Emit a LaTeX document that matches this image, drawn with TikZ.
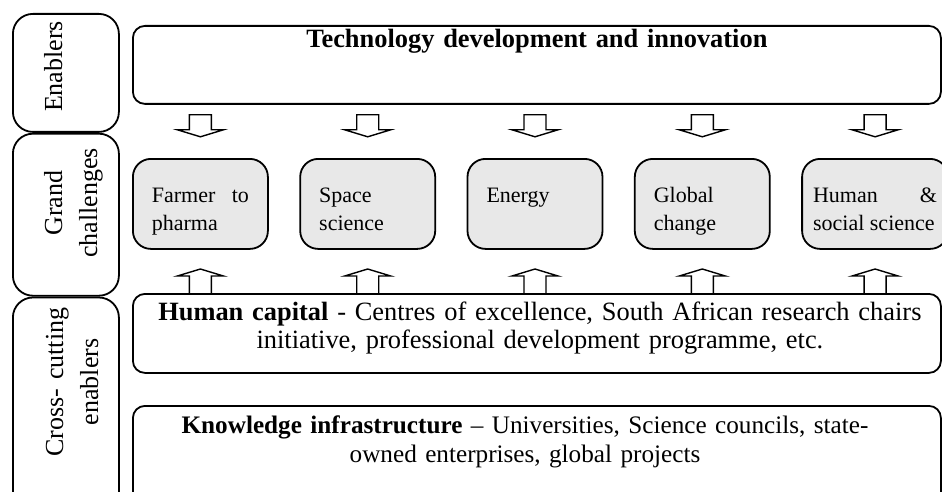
\documentclass[tikz,border=0pt]{standalone}
\usepackage{fontspec}
\setmainfont{Liberation Serif}
\usetikzlibrary{positioning, calc}

\definecolor{boxgray}{HTML}{E8E8E8}

\tikzset{
  bar/.style       = {rectangle, rounded corners=6pt, draw, line width=0.9pt,
                      inner sep=0pt, minimum width=404pt, anchor=north west},
  bartext/.style   = {text width=400pt, align=center, anchor=base, inner sep=0pt,
                      font=\fontsize{13.2}{14}\selectfont},
  sidebox/.style   = {rectangle, rounded corners=10pt, draw, line width=0.9pt,
                      inner sep=0pt, minimum width=53pt},
  sidetext/.style  = {rotate=90, text width=120pt, align=center, anchor=base,
                      inner sep=0pt, font=\fontsize{13}{17.5}\selectfont},
  challenge/.style = {rectangle, rounded corners=9pt, draw, line width=0.9pt,
                      fill=boxgray, minimum width=67.5pt, minimum height=45pt,
                      text width=48.5pt, inner xsep=9.5pt, inner ysep=9pt,
                      text height=13pt, text depth=14pt, align=justify,
                      font=\fontsize{11}{14}\selectfont,
                      execute at begin node={\hyphenpenalty=10000 }},
  blockarrow/.style = {draw, line width=0.7pt},
  downarr/.pic = {\draw[blockarrow] (-11,0) -- (11,0) -- (11,15) -- (23,15)
                    -- (0,22) -- (-23,15) -- (-11,15) -- cycle;},
  uparr/.pic   = {\draw[blockarrow] (-11,0) -- (-11,-17) -- (-23,-17)
                    -- (0,-24) -- (23,-17) -- (11,-17) -- (11,0);}
}

\begin{document}
\begin{tikzpicture}[x=0.5pt, y=-0.5pt, node distance=15.25pt]
  \useasboundingbox (0,0) rectangle (942,492);
  \clip (0,0) rectangle (942,492);

  %% -- Left column --
  \node[sidebox, minimum height=59pt, anchor=north west] (enab) at (12,13) {};
  \node[sidebox, minimum height=81pt, below=0pt of enab] (grand) {};
  \node[sidebox, minimum height=113pt, below=0pt of grand] (cross) {};
  \node[sidetext] (enabtxt)  at (62,66.5) {Enablers};
  \node[sidetext] (grandtxt) at (62,203)  {Grand\\challenges};
  \node[sidetext] (crosstxt) at (63,382)  {Cross- cutting\\enablers};

  %% -- Enablers --
  \node[bar, minimum height=39pt] (tech) at (132,25) {};
  \node[bartext, font=\fontsize{13.2}{14}\selectfont\bfseries] (techtxt)
        at ($(tech.north)+(0,23)$) {Technology development and innovation};

  %% -- Grand challenges --
  \node[challenge, anchor=north west] (ch1) at (132,158) {Farmer to\linebreak pharma};
  \node[challenge, right=of ch1] (ch2) {Space\\science};
  \node[challenge, right=of ch2] (ch3) {Energy};
  \node[challenge, right=of ch3] (ch4) {Global\\change};
  \node[challenge, right=of ch4, minimum width=73pt, text width=62pt,
        inner xsep=5.5pt] (ch5) {Human \&\linebreak social science};

  %% -- Cross-cutting enablers --
  \node[bar, minimum height=39.5pt] (human) at (132,293) {};
  \node[bartext] (humantxt) at ($(human.north)+(3,27)$)
        {\textbf{Human capital} - Centres of excellence, South African research chairs\\
         initiative, professional development programme, etc.};
  \node[bar, minimum height=57.5pt] (know) at (132,405) {};
  \node[bartext, font=\fontsize{12.6}{14.5}\selectfont] (knowtxt)
        at ($(know.north west)+(393,28)$)
        {\textbf{Knowledge infrastructure} -- Universities, Science councils, state-\\
         owned enterprises, global projects};

  %% -- Block arrows --
  \foreach \c in {ch1,ch2,ch3,ch4,ch5} {
    \pic at ($(\c |- tech.south)+(0,10)$) {downarr};
    \pic at (\c |- human.north) {uparr};
  }

\end{tikzpicture}
\end{document}
